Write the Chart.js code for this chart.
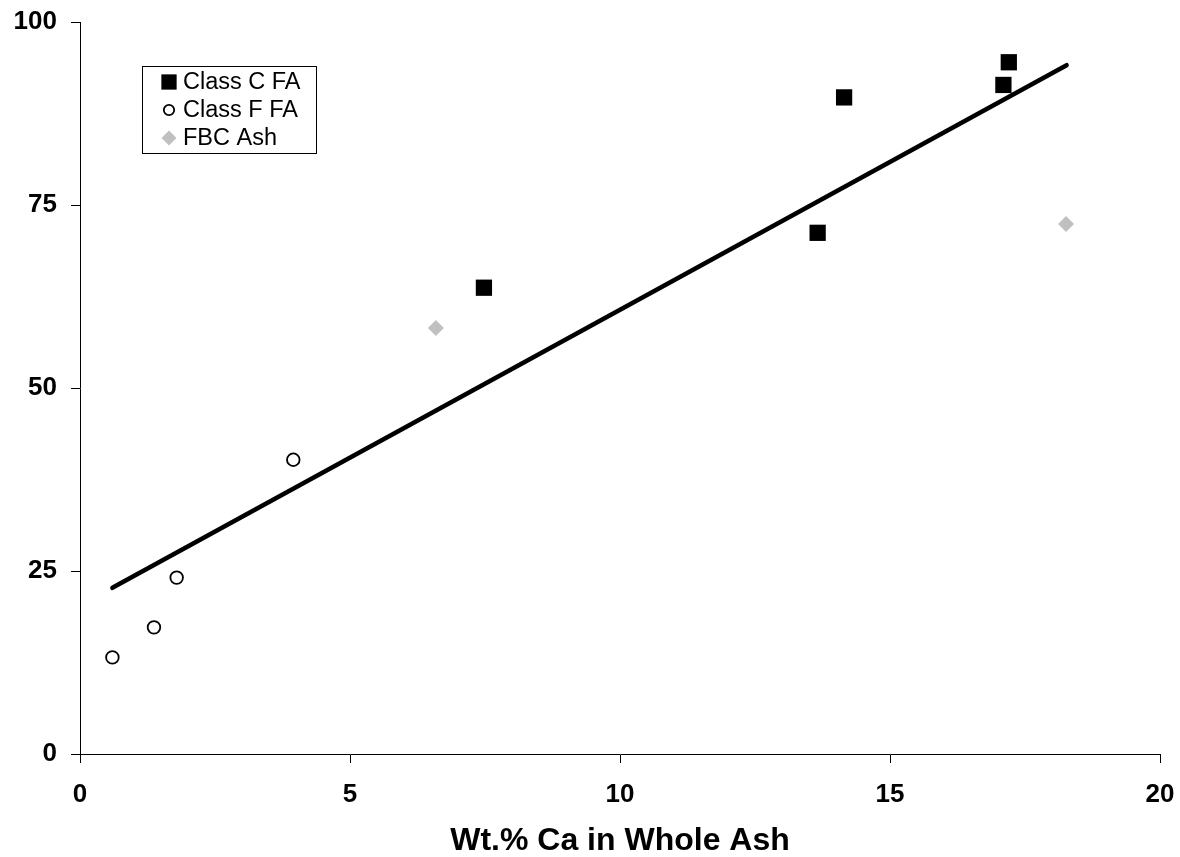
<!DOCTYPE html>
<html lang="en">
<head>
    <meta charset="UTF-8">
    <title>Wt.% Ca in Whole Ash</title>
    <script src="https://cdn.jsdelivr.net/npm/chart.js"></script>
    <style>
        body {
            margin: 0;
            background: #fff;
        }
        #wrap {
            width: 1180px;
            height: 857px;
        }
    </style>
</head>
<body>
    <div id="wrap">
        <canvas id="myChart" width="1180" height="857"></canvas>
    </div>

    <script>
        // values
        const classCX = [7.48, 13.66, 14.15, 17.10, 17.20];
        const classCY = [63.7, 71.2, 89.7, 91.4, 94.5];

        const classFX = [0.60, 1.37, 1.79, 3.95];
        const classFY = [13.2, 17.3, 24.1, 40.2];

        const fbcX = [6.59, 18.26];
        const fbcY = [58.2, 72.4];

        const trendX = [0.60, 18.27];
        const trendY = [22.7, 94.1];

        const xTicks = [0, 5, 10, 15, 20];
        const yTicks = [0, 25, 50, 75, 100];

        const seriesNames = ['Class C FA', 'Class F FA', 'FBC Ash'];

        const FONT = 'Arial, "Liberation Sans", sans-serif';
        const GREY = '#c0c0c0';

        function toPoints(xs, ys) {
            return xs.map((x, i) => ({ x: x, y: ys[i] }));
        }

        // legend box inside the plot, like the original
        const boxLegend = {
            id: 'boxLegend',
            afterDraw(chart) {
                const ctx = chart.ctx;
                const left = 142, top = 66, right = 316, bottom = 153;
                ctx.save();
                ctx.fillStyle = '#fff';
                ctx.fillRect(left, top, right - left, bottom - top);
                ctx.strokeStyle = '#000';
                ctx.lineWidth = 1;
                ctx.strokeRect(left + 0.5, top + 0.5, right - left, bottom - top);

                const rows = [82, 110, 138];
                const marks = [
                    { pointStyle: 'rect', radius: 10.8, backgroundColor: '#000', borderColor: '#000', borderWidth: 0 },
                    { pointStyle: 'circle', radius: 5.2, backgroundColor: '#fff', borderColor: '#000', borderWidth: 1.8 },
                    { pointStyle: 'rectRot', radius: 7.5, backgroundColor: GREY, borderColor: GREY, borderWidth: 0 }
                ];
                ctx.font = '23.5px ' + FONT;
                ctx.textBaseline = 'middle';
                ctx.textAlign = 'left';
                seriesNames.forEach((name, i) => {
                    const m = marks[i];
                    ctx.fillStyle = m.backgroundColor;
                    ctx.strokeStyle = m.borderColor;
                    ctx.lineWidth = m.borderWidth;
                    Chart.helpers.drawPoint(ctx, m, 169, rows[i]);
                    ctx.fillStyle = '#000';
                    ctx.fillText(name, 183, rows[i] + 1);
                });
                ctx.restore();
            }
        };

        const ctx = document.getElementById('myChart').getContext('2d');
        const myChart = new Chart(ctx, {
            type: 'scatter',
            data: {
                datasets: [
                    {
                        label: 'Trend',
                        type: 'line',
                        data: toPoints(trendX, trendY),
                        borderColor: '#000',
                        borderWidth: 4.5,
                        borderCapStyle: 'round',
                        pointRadius: 0,
                        fill: false
                    },
                    {
                        label: seriesNames[0],
                        data: toPoints(classCX, classCY),
                        pointStyle: 'rect',
                        pointRadius: 11.5,
                        backgroundColor: '#000',
                        borderColor: '#000',
                        borderWidth: 0
                    },
                    {
                        label: seriesNames[1],
                        data: toPoints(classFX, classFY),
                        pointStyle: 'circle',
                        pointRadius: 6.3,
                        backgroundColor: '#fff',
                        borderColor: '#000',
                        borderWidth: 1.8
                    },
                    {
                        label: seriesNames[2],
                        data: toPoints(fbcX, fbcY),
                        pointStyle: 'rectRot',
                        pointRadius: 8,
                        backgroundColor: GREY,
                        borderColor: GREY,
                        borderWidth: 0
                    }
                ]
            },
            options: {
                responsive: false,
                animation: false,
                layout: {
                    padding: { top: 22, right: 20, left: 0, bottom: 0 }
                },
                plugins: {
                    legend: { display: false },
                    tooltip: { enabled: false }
                },
                scales: {
                    x: {
                        type: 'linear',
                        min: 0,
                        max: 20,
                        afterBuildTicks: (scale) => {
                            scale.ticks = xTicks.map(v => ({ value: v }));
                        },
                        afterFit: (scale) => {
                            scale.height = 103;
                            scale.paddingLeft = 0;
                            scale.paddingRight = 0;
                        },
                        grid: {
                            drawOnChartArea: false,
                            drawTicks: true,
                            tickLength: 9,
                            color: '#000'
                        },
                        border: { color: '#000', width: 1 },
                        ticks: {
                            color: '#000',
                            padding: 16,
                            maxRotation: 0,
                            font: { family: FONT, size: 26, weight: 'bold' }
                        },
                        title: {
                            display: true,
                            text: 'Wt.% Ca in Whole Ash',
                            color: '#000',
                            padding: { top: 0, bottom: 0 },
                            font: { family: FONT, size: 32, weight: 'bold', lineHeight: 1 }
                        }
                    },
                    y: {
                        type: 'linear',
                        min: 0,
                        max: 100,
                        afterBuildTicks: (scale) => {
                            scale.ticks = yTicks.map(v => ({ value: v }));
                        },
                        afterFit: (scale) => {
                            scale.width = 80;
                            scale.paddingTop = 0;
                            scale.paddingBottom = 0;
                        },
                        grid: {
                            drawOnChartArea: false,
                            drawTicks: true,
                            tickLength: 9,
                            color: '#000'
                        },
                        border: { color: '#000', width: 1 },
                        ticks: {
                            color: '#000',
                            padding: 14,
                            font: { family: FONT, size: 26, weight: 'bold' }
                        }
                    }
                }
            },
            plugins: [boxLegend]
        });
    </script>
</body>
</html>
